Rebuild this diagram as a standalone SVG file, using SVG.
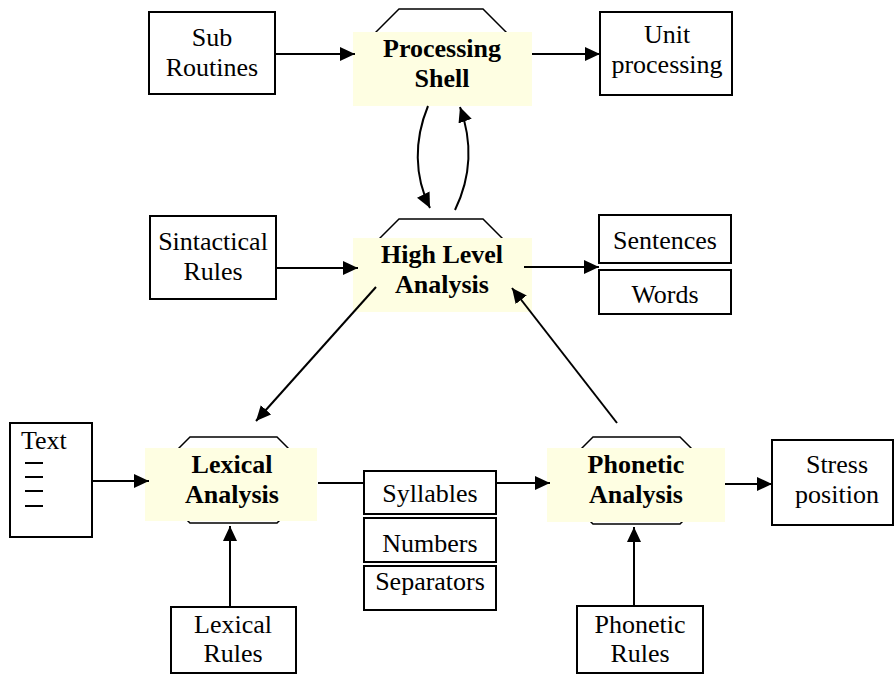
<svg xmlns="http://www.w3.org/2000/svg" width="896" height="675" viewBox="0 0 896 675">
<style>
.box{fill:#fff;stroke:#000;stroke-width:2}
.oct{fill:#fff;stroke:#000;stroke-width:1.5}
.hl{fill:#FEFEE2;stroke:none}
.t{font-family:"Liberation Serif","Times New Roman",serif;font-size:26px;text-anchor:middle;fill:#000}
.b{font-weight:bold}
.c{fill:none;stroke:#000;stroke-width:2}
</style>
<defs>
<marker id="ah" markerUnits="userSpaceOnUse" markerWidth="16" markerHeight="14" refX="15" refY="7" orient="auto">
<path d="M0,0 L15,7 L0,14 z" fill="#000"/>
</marker>
</defs>
<rect width="896" height="675" fill="#fff"/>

<g id="processing-shell">
<polygon class="oct" points="399,9 483,9 515,41 515,72 483,104 399,104 367,72 367,41"/>
<rect class="hl" x="353" y="32" width="179" height="74"/>
<text class="t b" x="442" y="57">Processing</text>
<text class="t b" x="442" y="87">Shell</text>
</g>

<g id="sub-routines">
<rect class="box" x="149" y="12" width="126" height="82"/>
<text class="t" x="212" y="46">Sub</text>
<text class="t" x="212" y="76">Routines</text>
</g>

<g id="unit-processing">
<rect class="box" x="600" y="12" width="132" height="83"/>
<text class="t" x="667" y="43">Unit</text>
<text class="t" x="667" y="73">processing</text>
</g>

<g id="high-level-analysis">
<polygon class="oct" points="399,219 483,219 515,251 515,278 483,310 399,310 367,278 367,251"/>
<rect class="hl" x="353" y="238" width="179" height="74"/>
<text class="t b" x="442" y="263">High Level</text>
<text class="t b" x="442" y="293">Analysis</text>
</g>

<g id="sintactical-rules">
<rect class="box" x="150" y="216" width="126" height="83"/>
<text class="t" x="213" y="250">Sintactical</text>
<text class="t" x="213" y="280">Rules</text>
</g>

<g id="sentences">
<rect class="box" x="599" y="215" width="132" height="48"/>
<text class="t" x="665" y="249">Sentences</text>
</g>
<g id="words">
<rect class="box" x="599" y="270" width="132" height="44"/>
<text class="t" x="665" y="303">Words</text>
</g>

<g id="text">
<rect class="box" x="10" y="423" width="82" height="114"/>
<text class="t" x="21" y="449" style="text-anchor:start">Text</text>
<g stroke="#000" stroke-width="2">
<line x1="25" y1="463" x2="43" y2="463"/>
<line x1="25" y1="477" x2="43" y2="477"/>
<line x1="25" y1="491" x2="43" y2="491"/>
<line x1="25" y1="506" x2="43" y2="506"/>
</g>
</g>

<g id="lexical-analysis">
<polygon class="oct" points="190,437 277,437 300,460 300,500 277,523 190,523 167,500 167,460"/>
<rect class="hl" x="145" y="448" width="172" height="73"/>
<text class="t b" x="232" y="473">Lexical</text>
<text class="t b" x="232" y="503">Analysis</text>
</g>

<g id="syllables">
<rect class="box" x="364" y="471" width="132" height="43"/>
<text class="t" x="430" y="502">Syllables</text>
</g>
<g id="numbers">
<rect class="box" x="364" y="518" width="132" height="44"/>
<text class="t" x="430" y="552">Numbers</text>
</g>
<g id="separators">
<rect class="box" x="364" y="566" width="132" height="44"/>
<text class="t" x="430" y="590">Separators</text>
</g>

<g id="phonetic-analysis">
<polygon class="oct" points="593,437 680,437 703,460 703,501 680,524 593,524 570,501 570,460"/>
<rect class="hl" x="547" y="448" width="178" height="74"/>
<text class="t b" x="636" y="473">Phonetic</text>
<text class="t b" x="636" y="503">Analysis</text>
</g>

<g id="stress-position">
<rect class="box" x="772" y="440" width="121" height="85"/>
<text class="t" x="837" y="473">Stress</text>
<text class="t" x="837" y="503">position</text>
</g>

<g id="lexical-rules">
<rect class="box" x="171" y="607" width="125" height="66"/>
<text class="t" x="233" y="633">Lexical</text>
<text class="t" x="233" y="662">Rules</text>
</g>

<g id="phonetic-rules">
<rect class="box" x="577" y="606" width="126" height="67"/>
<text class="t" x="640" y="633">Phonetic</text>
<text class="t" x="640" y="662">Rules</text>
</g>

<g id="connectors">
<path class="c" d="M275,54 L355,54" marker-end="url(#ah)"/>
<path class="c" d="M532,54 L600,54" marker-end="url(#ah)"/>
<path class="c" d="M428,106 C414,140 414,176 430,208" marker-end="url(#ah)"/>
<path class="c" d="M455,210 C472,175 472,140 460,107" marker-end="url(#ah)"/>
<path class="c" d="M276,268 L358,268" marker-end="url(#ah)"/>
<path class="c" d="M524,267 L599,267" marker-end="url(#ah)"/>
<path class="c" d="M376,287 L256,421" marker-end="url(#ah)"/>
<path class="c" d="M617,423 L512,288" marker-end="url(#ah)"/>
<path class="c" d="M92,481 L149,481" marker-end="url(#ah)"/>
<path class="c" d="M318,483 L364,483"/>
<path class="c" d="M496,483 L550,483" marker-end="url(#ah)"/>
<path class="c" d="M725,484 L772,484" marker-end="url(#ah)"/>
<path class="c" d="M230,607 L230,526" marker-end="url(#ah)"/>
<path class="c" d="M634,606 L634,527" marker-end="url(#ah)"/>
</g>
</svg>
